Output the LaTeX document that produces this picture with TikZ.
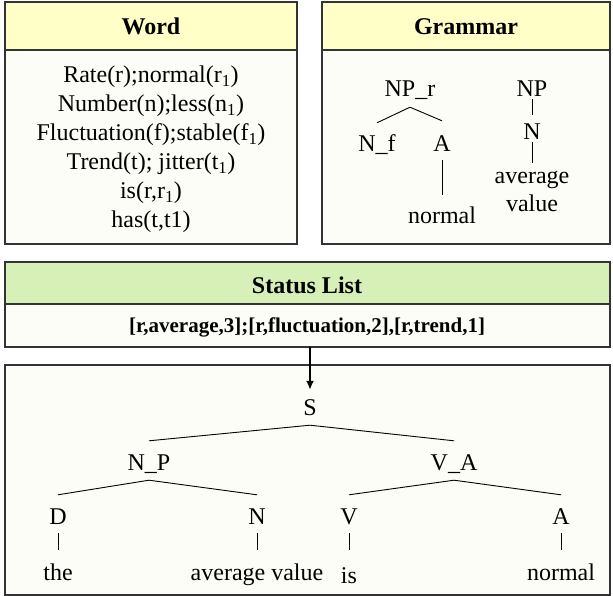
\documentclass[tikz,border=0pt]{standalone}
\usepackage{fontspec}
\setmainfont{Liberation Serif}
\usetikzlibrary{arrows.meta}

\definecolor{headyellow}{HTML}{FFFFC7}
\definecolor{headgreen}{HTML}{D6F0B8}
\definecolor{boxwhite}{HTML}{FCFDF6}

\tikzset{
  panel/.style={draw=black!80, line width=1.2pt},
  tn/.style={inner sep=0pt, anchor=base, text height=16pt, text depth=0pt},
  branch/.style={line width=0.9pt},
}

\begin{document}
\begin{tikzpicture}[x=1pt,y=-1pt]
\useasboundingbox (0,0) rectangle (613,596);

% panels
\draw[panel, fill=headyellow] (5,2) rectangle (297,50);
\draw[panel, fill=boxwhite] (5,50) rectangle (297,244);
\draw[panel, fill=headyellow] (322,2) rectangle (610,50);
\draw[panel, fill=boxwhite] (322,50) rectangle (610,244);
\draw[panel, fill=headgreen] (5,262) rectangle (610,304);
\draw[panel, fill=boxwhite] (5,304) rectangle (610,347);
\draw[panel, fill=boxwhite] (5,365) rectangle (610,595);

\fontsize{24}{29}\selectfont

% headers
\node[anchor=base] (wordhead) at (151,35) {\textbf{Word}};
\node[anchor=base] (gramhead) at (466,35) {\textbf{Grammar}};
\node[anchor=base] (stathead) at (307,293) {\textbf{Status List}};
\node[anchor=base, font=\fontsize{21}{25}\selectfont\bfseries] (statlist) at (307,332) {[r,average,3];[r,fluctuation,2],[r,trend,1]};

% word list
\node[anchor=base] (w1) at (151,83) {Rate(r);normal(r\textsubscript{1})};
\node[anchor=base] (w2) at (151,112) {Number(n);less(n\textsubscript{1})};
\node[anchor=base] (w3) at (151,141) {Fluctuation(f);stable(f\textsubscript{1})};
\node[anchor=base] (w4) at (151,170) {Trend(t); jitter(t\textsubscript{1})};
\node[anchor=base] (w5) at (151,199) {is(r,r\textsubscript{1})};
\node[anchor=base] (w6) at (151,228) {has(t,t1)};

% grammar trees
\node[tn] (npr) at (410,97) {NP\_r};
\node[tn] (nf) at (377,152) {N\_f};
\node[tn] (ga) at (442,152) {A};
\node[tn] (gnormal) at (442,223) {normal};
\node[tn] (gnp) at (532,97) {NP};
\node[tn] (gn) at (532,140) {N};
\node[anchor=north, inner sep=0pt, align=center, font=\fontsize{24}{28}\selectfont] (gavg) at (532,171) {average\\value};

\draw[branch] ([yshift=-10pt]npr.south) -- ([yshift=13pt]nf.north);
\draw[branch] ([yshift=-10pt]npr.south) -- ([yshift=15pt]ga.north);
\draw[branch] ([yshift=-8pt]ga.south) -- ([yshift=12pt]gnormal.north);
\draw[branch] ([yshift=-2pt]gnp.south) -- ([yshift=9pt]gn.north);
\draw[branch] ([yshift=-2pt]gn.south) -- ([yshift=8pt]gavg.north);

% sentence tree
\node[tn] (s) at (310,415) {S};
\node[tn] (np) at (149,470) {N\_P};
\node[tn] (va) at (454,470) {V\_A};
\node[tn] (d) at (58,524) {D};
\node[tn] (n) at (257,524) {N};
\node[tn] (v) at (349,524) {V};
\node[tn] (a) at (561,524) {A};
\node[tn] (the) at (58,580) {the};
\node[tn] (avgval) at (257,580) {average value};
\node[tn] (is) at (349,583) {is};
\node[tn] (normal) at (561,580) {normal};

\draw[branch] ([yshift=-10pt]s.south) -- ([yshift=13pt]np.north);
\draw[branch] ([yshift=-10pt]s.south) -- ([yshift=13pt]va.north);
\draw[branch] ([yshift=-10pt]np.south) -- ([yshift=13pt]d.north);
\draw[branch] ([yshift=-10pt]np.south) -- ([yshift=13pt]n.north);
\draw[branch] ([yshift=-10pt]va.south) -- ([yshift=13pt]v.north);
\draw[branch] ([yshift=-10pt]va.south) -- ([yshift=13pt]a.north);
\draw[branch] ([yshift=-9pt]d.south) -- ([yshift=14pt]the.north);
\draw[branch] ([yshift=-9pt]n.south) -- ([yshift=14pt]avgval.north);
\draw[branch] ([yshift=-9pt]v.south) -- ([yshift=17pt]is.north);
\draw[branch] ([yshift=-9pt]a.south) -- ([yshift=14pt]normal.north);

% arrow from status list
\coordinate (statbottom) at (310,347);
\draw[line width=2pt, -{Latex[length=9pt,width=8pt]}] (statbottom) -- ([yshift=9pt]s.north);

\end{tikzpicture}
\end{document}
